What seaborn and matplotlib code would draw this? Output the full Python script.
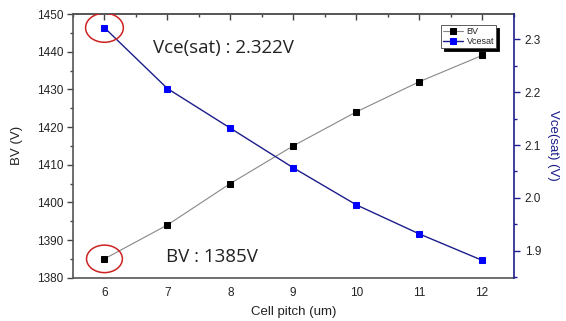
import matplotlib
matplotlib.use("Agg")
import matplotlib.pyplot as plt
from matplotlib.patches import Ellipse
from matplotlib.ticker import MultipleLocator
import seaborn as sns
import pandas as pd

sns.set_style("white")
plt.rcParams["font.family"] = ["Liberation Sans", "DejaVu Sans"]

cell_pitch = [6, 7, 8, 9, 10, 11, 12]
bv = [1385, 1394, 1405, 1415, 1424, 1432, 1439]
vcesat = [2.322, 2.207, 2.132, 2.057, 1.987, 1.932, 1.882]

df = pd.DataFrame({"pitch": cell_pitch, "BV": bv, "Vcesat": vcesat})

navy = "#1c1c8c"
ink = "#222222"

fig = plt.figure(figsize=(5.66, 3.21), dpi=100)
ax = fig.add_axes([73 / 566, 1 - 277.7 / 321, (513.5 - 73) / 566, (277.7 - 14) / 321])
ax2 = ax.twinx()

sns.lineplot(data=df, x="pitch", y="BV", ax=ax, color="#888888", lw=0.8,
             marker="s", markersize=5, markerfacecolor="black",
             markeredgecolor="black", label="BV", legend=False)
sns.lineplot(data=df, x="pitch", y="Vcesat", ax=ax2, color=navy, lw=1.0,
             marker="s", markersize=5, markerfacecolor="#0000ff",
             markeredgecolor="#0000ff", label="Vcesat", legend=False)

ax.set_xlim(5.5, 12.5)
ax.set_ylim(1380, 1450)
ax2.set_ylim(1.849, 2.348)

ax.xaxis.set_major_locator(MultipleLocator(1))
ax.xaxis.set_minor_locator(MultipleLocator(0.5))
ax.yaxis.set_major_locator(MultipleLocator(10))
ax.yaxis.set_minor_locator(MultipleLocator(5))
ax2.yaxis.set_major_locator(MultipleLocator(0.1))
ax2.yaxis.set_minor_locator(MultipleLocator(0.05))

ax.tick_params(axis="both", which="major", direction="out", length=4, width=1,
               labelsize=8.5, colors="#444444", labelcolor=ink, top=False, pad=3)
ax.tick_params(axis="both", which="minor", direction="out", length=2.5, width=1,
               colors="#444444", top=False)
ax2.tick_params(axis="y", which="major", direction="out", length=4, width=1,
                labelsize=8.5, colors=navy, labelcolor=ink, pad=4)
ax2.tick_params(axis="y", which="minor", direction="out", length=2.5, width=1, colors=navy)

# Top axis carries inward ticks only
top = ax.secondary_xaxis("top")
top.xaxis.set_major_locator(MultipleLocator(1))
top.xaxis.set_minor_locator(MultipleLocator(0.5))
top.tick_params(axis="x", which="major", direction="in", length=4, width=1,
                colors="#444444", labeltop=False)
top.tick_params(axis="x", which="minor", direction="in", length=2.5, width=1,
                colors="#444444")
top.spines["top"].set_color("#555555")
top.spines["top"].set_linewidth(1.2)

for side in ["left", "bottom", "top"]:
    ax.spines[side].set_color("#555555")
    ax.spines[side].set_linewidth(1.2)
ax.spines["right"].set_visible(False)
for side in ["left", "bottom", "top"]:
    ax2.spines[side].set_visible(False)
ax2.spines["right"].set_color(navy)
ax2.spines["right"].set_linewidth(1.2)

ax.set_xlabel("Cell pitch (um)", fontsize=9.5, color=ink, labelpad=5)
ax.set_ylabel("BV (V)", fontsize=9.5, color=ink, labelpad=10)
ax2.set_ylabel("Vce(sat) (V)", fontsize=9.5, color=navy, rotation=270, labelpad=13)

# Highlight the first point of each curve
ax.add_patch(Ellipse((cell_pitch[0], bv[0]), 0.57, 7.3, fill=False,
                     edgecolor="#cc2222", lw=1.1, zorder=5))
ax2.add_patch(Ellipse((cell_pitch[0], vcesat[0]), 0.6, 0.055, fill=False,
                      edgecolor="#cc2222", lw=1.1, zorder=5))

ax.text(6.976, 1385.6, f"BV : {bv[0]}V", fontsize=13.5, color=ink,
        va="center", ha="left", family=["Open Sans", "DejaVu Sans"])
ax2.text(6.765, 2.283, f"Vce(sat) : {vcesat[0]:.3f}V", fontsize=13.5, color=ink,
         va="center", ha="left", family=["Open Sans", "DejaVu Sans"])

h1, l1 = ax.get_legend_handles_labels()
h2, l2 = ax2.get_legend_handles_labels()
leg = ax2.legend(h1 + h2, l1 + l2, loc="upper right", bbox_to_anchor=(0.965, 0.965),
                 fontsize=6.5, frameon=True, fancybox=False,
                 shadow={"color": "black", "alpha": 1.0},
                 handlelength=2.2, handletextpad=0.4, borderpad=0.25,
                 labelspacing=0.1, borderaxespad=0.2)
leg.get_frame().set_edgecolor("#444444")
leg.get_frame().set_linewidth(0.6)
leg.get_frame().set_alpha(1.0)

fig.savefig("out.png", dpi=100)
